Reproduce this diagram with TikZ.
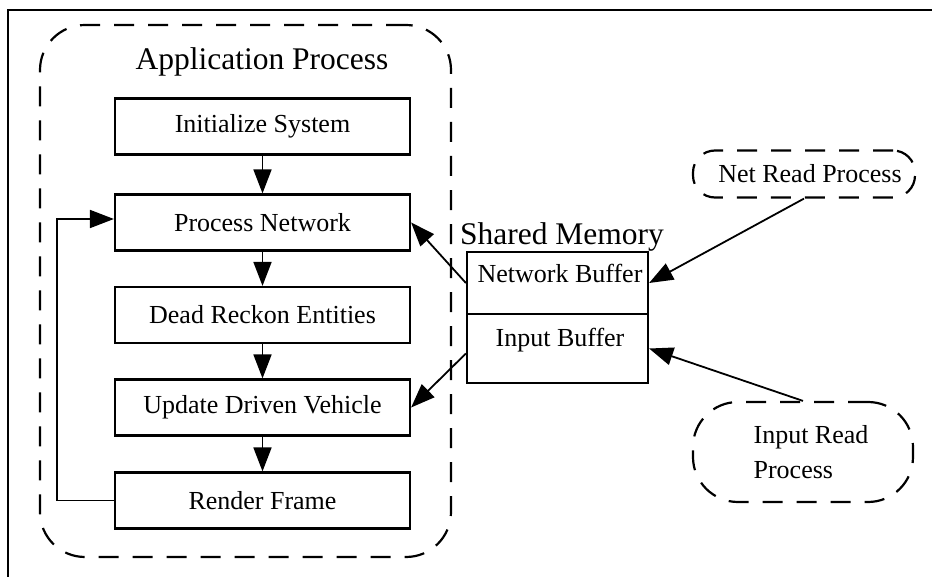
\documentclass[tikz,border=0pt]{standalone}
\usepackage{fontspec}
\setmainfont{Liberation Serif}
\usetikzlibrary{arrows.meta}
\begin{document}
\begin{tikzpicture}[x=1pt,y=-1pt,
  box/.style={draw,line width=2.2pt,minimum width=295pt,minimum height=56pt,inner sep=0pt,font=\fontsize{26}{31}\selectfont},
  dbox/.style={draw,line width=2.2pt,dash pattern=on 20pt off 14pt,inner sep=0pt},
  arr/.style={line width=1.8pt,-{Triangle[length=24pt,width=18pt]}},
  lbl/.style={font=\fontsize{26}{35}\selectfont,inner sep=0pt},
  big/.style={font=\fontsize{31.5}{36}\selectfont,inner sep=0pt}]
\useasboundingbox (0,0) rectangle (932,577);
% outer frame (only top and left edges visible)
\coordinate (ftl) at (8,10);
\coordinate (ftr) at (932,10);
\coordinate (fbl) at (8,577);
\draw[line width=2.8pt] (ftr) -- (ftl) -- (fbl);

% application process container
\node[dbox,rounded corners=45pt,minimum width=411pt,minimum height=532pt] (app) at (245.5,291) {};
\node[big,anchor=base] (apptitle) at (262,70) {Application Process};

\node[box] (init) at (262.5,126.5) {Initialize System};
\node[box] (pn) at (262.5,222.5) {Process Network};
\node[box] (dr) at (262.5,315) {Dead Reckon Entities};
\node[box] (ud) at (262.5,407.5) {Update Driven Vehicle};
\node[box] (rf) at (262.5,500.5) {Render Frame};

\draw[arr] (init) -- (pn);
\draw[arr] (pn) -- (dr);
\draw[arr] (dr) -- (ud);
\draw[arr] (ud) -- (rf);
\coordinate (loopb) at (57,500.5);
\coordinate (loopt) at (57,219);
\draw[arr] (rf.west) -- (loopb) -- (loopt) -- (pn.west |- loopt);

% shared memory
\node[big,anchor=base] (smt) at (562,245) {Shared Memory};
\node[draw,line width=2.2pt,minimum width=181pt,minimum height=62pt,inner sep=0pt] (nb) at (557.5,283) {};
\node[draw,line width=2.2pt,minimum width=181pt,minimum height=69pt,inner sep=0pt] (ib) at (557.5,348.5) {};
\node[lbl] (nbt) at (560,273) {Network Buffer};
\node[lbl] (ibt) at (560,340) {Input Buffer};

\draw[arr] (nb.west) -- (pn.east);
\draw[arr] ([yshift=-5pt]ib.west) -- (ud.east);

% reader processes
\node[dbox,rounded corners=22pt,minimum width=222pt,minimum height=47pt] (nr) at (804,174) {};
\node[lbl] (nrt) at (810,174) {Net Read Process};
\node[dbox,rounded corners=45pt,minimum width=220pt,minimum height=100pt] (ir) at (803,452) {};
\node[lbl,align=left] (irt) at (811,452) {Input Read\\Process};

\draw[arr] (nr.south) -- (nb.east);
\draw[arr] (ir.north) -- (ib.east);
\end{tikzpicture}
\end{document}
